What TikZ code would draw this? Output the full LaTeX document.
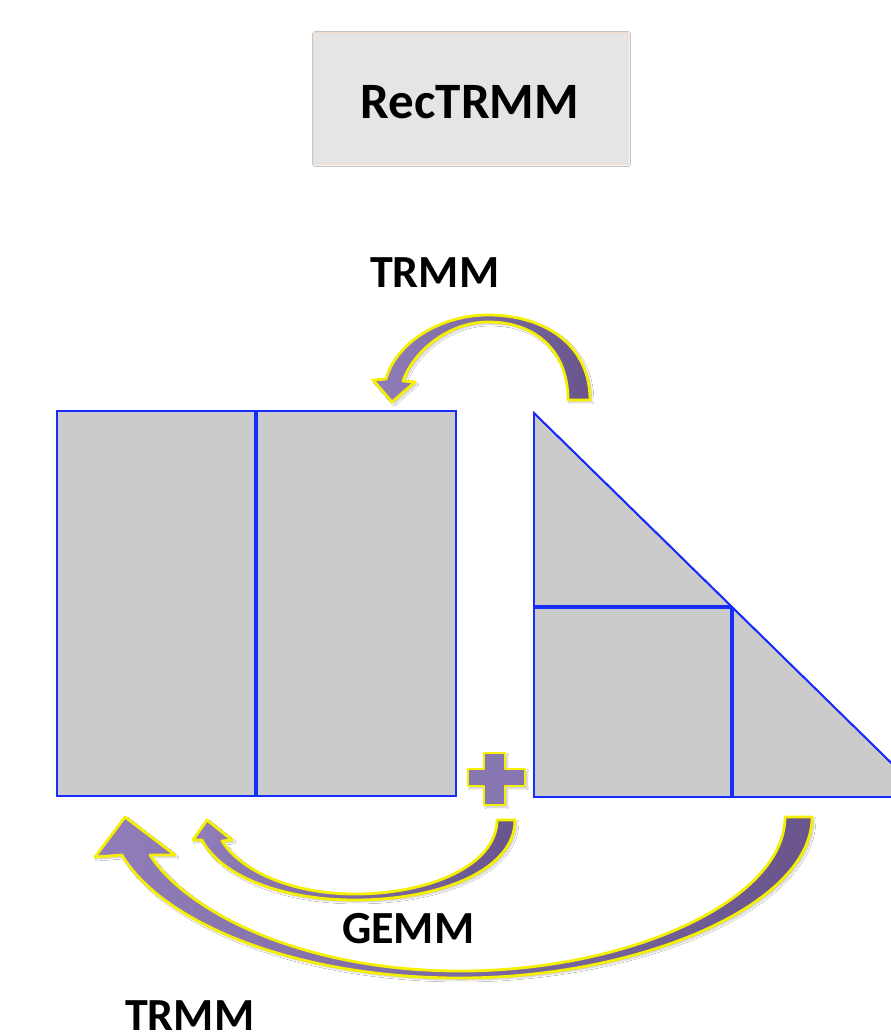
\documentclass[tikz,border=0pt]{standalone}
\usepackage{fontspec}
\setmainfont{Carlito}
\usetikzlibrary{shadows.blur}
\definecolor{mblue}{RGB}{25,45,250}
\definecolor{mgray}{RGB}{203,203,203}
\definecolor{titlefill}{RGB}{229,229,229}
\definecolor{titleedge}{RGB}{244,218,200}
\definecolor{arrowlight}{RGB}{145,125,185}
\definecolor{arrowdark}{RGB}{105,85,140}
\definecolor{plusfill}{RGB}{135,118,175}
\definecolor{arrowedge}{RGB}{245,240,0}
\tikzset{
  arrowshape/.style={draw=arrowedge, line width=2.8pt, left color=arrowlight, right color=arrowdark, line join=round,
    blur shadow={shadow xshift=2pt, shadow yshift=-2pt, shadow opacity=25, shadow blur steps=5}},
  plusshape/.style={draw=arrowedge, line width=2.8pt, fill=plusfill, line join=round,
    blur shadow={shadow xshift=2pt, shadow yshift=-2pt, shadow opacity=25, shadow blur steps=5}},
  block/.style={draw=mblue, fill=mgray, line width=1.8pt, line join=miter},
  divider/.style={draw=mblue, line width=3.6pt},
  titlebox/.style={draw=titleedge, fill=titlefill, line width=1pt, minimum width=314pt, minimum height=131pt, inner sep=0pt,
    blur shadow={shadow xshift=1.5pt, shadow yshift=-1.5pt, shadow opacity=20, shadow blur steps=4}},
  lbl/.style={font=\fontsize{46}{50}\selectfont\bfseries, text=black, inner sep=0pt, anchor=base west},
}
\begin{document}
\begin{tikzpicture}[x=1pt, y=-1pt]
\useasboundingbox (0,0) rectangle (891,1036);
\fill[white] (0,0) rectangle (891,1036);
\clip (0,0) rectangle (891,1036);

% title
\node[titlebox] (title) at (470,97.5) {};
\node[font=\fontsize{51}{56}\selectfont\bfseries, inner sep=0pt, anchor=base] (titletext) at (470,118) {RecTRMM};

% labels
\node[lbl] (trmmtop) at (370,287) {TRMM};
\node[lbl] (gemm) at (342,943) {GEMM};
\node[lbl] (trmmbot) at (125,1030) {TRMM};

% left rectangle
\draw[block] (57,411) rectangle (456,796);
\draw[divider] (256,411) -- (256,796);

% triangle
\draw[block] (534,413) -- (534,797) -- (926,797) -- cycle;
\draw[divider] (534,607) -- (732,607);
\draw[divider] (732,607) -- (732,797);
\draw[mblue, line width=1.8pt] (534,413) -- (926,797);

% plus sign
\path[plusshape] (484,753) -- (505,753) -- (505,769) -- (525,769) -- (525,786) -- (505,786)
  -- (505,805) -- (484,805) -- (484,786) -- (468,786) -- (468,769) -- (484,769) -- cycle;

% top TRMM arrow
\path[arrowshape] (590,400) .. controls (590,345) and (545,315) .. (488,315)
  .. controls (440,315) and (396,343) .. (386,379) -- (373,380) -- (392,402) -- (415,382) -- (403,381)
  .. controls (413,352) and (448,322) .. (488,322)
  .. controls (535,322) and (568,350) .. (568,400) -- cycle;

% inner GEMM arrow
\path[arrowshape] (515,820) .. controls (515,870) and (440,900) .. (355,900)
  .. controls (280,900) and (220,875) .. (202,840) -- (193,840) -- (207,820) -- (232,840) -- (222,841)
  .. controls (240,870) and (290,894) .. (355,894)
  .. controls (430,894) and (497,865) .. (497,820) -- cycle;

% outer TRMM arrow
\path[arrowshape] (812,817) .. controls (812,905) and (640,978) .. (460,978)
  .. controls (290,978) and (160,920) .. (122,855) -- (95,857) -- (125,817) -- (175,855) -- (150,855)
  .. controls (185,910) and (300,971) .. (460,971)
  .. controls (630,971) and (785,900) .. (785,817) -- cycle;
\end{tikzpicture}
\end{document}
